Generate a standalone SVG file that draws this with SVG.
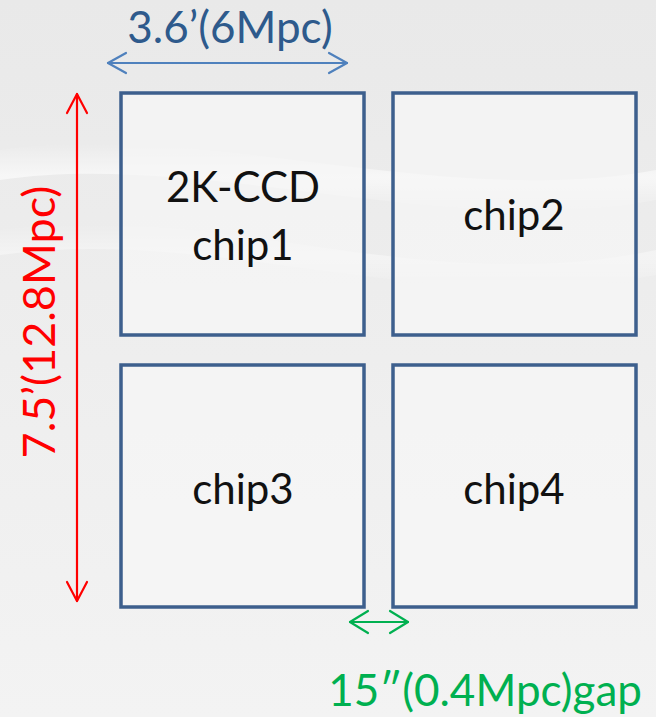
<svg xmlns="http://www.w3.org/2000/svg" width="656" height="717" viewBox="0 0 656 717">
<defs>
<linearGradient id="bg" x1="0" y1="0" x2="0" y2="1">
<stop offset="0" stop-color="#e9e9e9"/>
<stop offset="0.5" stop-color="#eeeeee"/>
<stop offset="1" stop-color="#f3f3f3"/>
</linearGradient>
<linearGradient id="streak" x1="0" y1="0" x2="0" y2="1">
<stop offset="0" stop-color="#ffffff" stop-opacity="0"/>
<stop offset="0.5" stop-color="#ffffff" stop-opacity="0.6"/>
<stop offset="1" stop-color="#ffffff" stop-opacity="0"/>
</linearGradient>
<style>
.chip{fill:#f6f6f6;fill-opacity:0.7;stroke:#3d5f8d;stroke-width:3.5}
.lbl{font-family:Lato,"Open Sans","Liberation Sans",sans-serif;font-size:42px;fill:#111;text-anchor:middle}
.arr{fill:none;stroke-width:2.2;stroke-linecap:round;stroke-linejoin:round}
.dim{font-family:Lato,"Open Sans","Liberation Sans",sans-serif}
</style>
</defs>
<rect width="656" height="717" fill="url(#bg)"/>
<path d="M0 150 C200 120 450 210 656 170 L656 200 C450 240 200 150 0 180 Z" fill="url(#streak)"/>
<path d="M0 230 C220 200 420 300 656 250 L656 275 C420 320 220 225 0 255 Z" fill="url(#streak)" opacity="0.7"/>

<g id="chip1">
<rect class="chip" x="121" y="93" width="243" height="242"/>
<text class="lbl" x="243" y="202">2K-CCD</text>
<text class="lbl" x="243" y="260">chip1</text>
</g>
<g id="chip2">
<rect class="chip" x="393" y="93" width="243" height="242"/>
<text class="lbl" x="514" y="230">chip2</text>
</g>
<g id="chip3">
<rect class="chip" x="121" y="365" width="243" height="242"/>
<text class="lbl" x="243" y="504">chip3</text>
</g>
<g id="chip4">
<rect class="chip" x="393" y="365" width="243" height="242"/>
<text class="lbl" x="514" y="504">chip4</text>
</g>

<g id="connectors">
<g stroke="#4f81bd" class="arr">
<path d="M108 63 L347 63"/>
<path d="M126 53 L108 63 L126 73"/>
<path d="M329 53 L347 63 L329 73"/>
</g>
<g stroke="#ff0000" class="arr">
<path d="M77 94 L77 601"/>
<path d="M67 113 L77 94 L87 113"/>
<path d="M67 582 L77 601 L87 582"/>
</g>
<g stroke="#00b050" class="arr">
<path d="M350 622 L408 622"/>
<path d="M368 611 L350 622 L368 633"/>
<path d="M390 611 L408 622 L390 633"/>
</g>
</g>

<text class="dim" x="230" y="43" font-size="44" fill="#2e5a8c" text-anchor="middle">3.6’(6Mpc)</text>
<text class="dim" transform="translate(55 322) rotate(-90)" font-size="45" fill="#ff0000" text-anchor="middle">7.5’(12.8Mpc)</text>
<text class="dim" x="642" y="706" font-size="44" fill="#00b050" text-anchor="end">15″(0.4Mpc)gap</text>
</svg>
